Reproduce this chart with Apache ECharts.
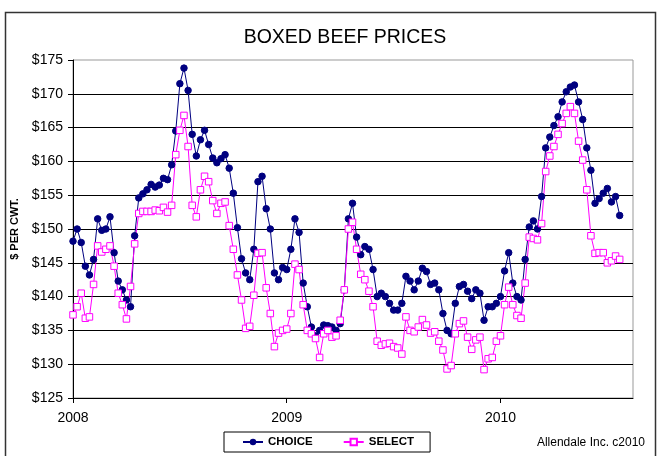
<!DOCTYPE html>
<html>
<head>
<meta charset="utf-8">
<script src="https://cdn.jsdelivr.net/npm/echarts@6/dist/echarts.min.js"></script>
<style>
  html, body { margin: 0; padding: 0; background: #fff; }
  #chart { width: 660px; height: 456px; }
</style>
</head>
<body>
<div id="chart"></div>
<script>
// weekly prices, first week of 2008 onward
var yearTicks = [2008, 2009, 2010];

var choice = [
  148.2, 150.0, 148.0, 144.5, 143.2, 145.5, 151.5, 149.8, 150.0, 151.8,
  146.5, 142.3, 141.0, 139.5, 138.5, 149.0, 154.6, 155.2, 155.8, 156.6,
  156.2, 156.5, 157.5, 157.3, 159.5, 164.5, 171.5, 173.8, 170.5, 164.0,
  160.8, 163.2, 164.6, 162.5, 160.5, 159.8, 160.4, 161.0, 159.0, 155.3,
  150.2, 145.6, 143.5, 142.5, 147.0, 157.0, 157.8, 153.0, 150.0, 143.5,
  142.5, 144.3, 144.0, 147.0, 151.5, 149.5, 142.0, 138.5, 135.5, 134.2,
  135.0, 135.8, 135.7, 135.5, 135.0, 136.0, 141.0, 151.5, 153.8, 148.8,
  146.2, 147.4, 147.0, 144.0, 140.0, 140.5, 140.0, 139.0, 138.0, 138.0,
  139.0, 143.0, 142.3, 141.0, 142.3, 144.2, 143.7, 141.8, 142.0, 141.0,
  137.5, 135.0, 134.5, 139.0, 141.5, 141.8, 140.8, 139.7, 141.0, 140.5,
  136.5, 138.5, 138.5, 139.0, 140.0, 143.8, 146.5, 142.0, 140.0, 139.5,
  145.5, 150.3, 151.2, 150.0, 154.8, 162.0, 163.6, 165.3, 166.6, 168.8,
  170.3, 171.0, 171.3, 168.8, 166.2, 162.0, 158.7, 153.8, 154.5, 155.3,
  156.0, 154.0, 154.8, 152.0
];

var select = [
  137.3, 138.5, 140.5, 136.8, 137.0, 141.8, 147.5, 146.6, 147.0, 147.5,
  144.5, 140.5, 138.8, 136.7, 141.5, 147.8, 152.3, 152.6, 152.6, 152.6,
  152.8, 152.7, 153.2, 152.5, 153.5, 161.0, 164.6, 166.8, 162.2, 153.5,
  151.8, 155.8, 157.8, 157.0, 154.2, 152.3, 153.8, 154.0, 150.5, 147.0,
  143.2, 139.5, 135.3, 135.6, 140.2, 146.4, 146.5, 141.3, 137.5, 132.6,
  134.6, 135.0, 135.2, 137.5, 144.8, 144.0, 138.8, 135.0, 134.5, 133.8,
  131.0, 134.5, 135.0, 134.0, 134.2, 136.5, 141.0, 150.0, 151.0, 147.0,
  143.3, 142.5, 140.8, 138.5, 133.4, 132.8, 133.0, 133.1, 132.6, 132.4,
  131.5, 137.0, 135.0, 134.8, 135.5, 136.6, 135.8, 134.6, 134.8, 133.4,
  132.1, 129.3, 129.8, 134.5, 136.0, 136.4, 134.0, 132.2, 133.6, 134.0,
  129.2, 130.8, 131.0, 133.4, 134.2, 138.8, 141.4, 138.8, 137.2, 136.8,
  142.0, 148.8, 148.6, 148.4, 150.8, 158.5, 160.8, 162.2, 164.0, 165.6,
  167.1, 168.1, 167.1, 163.0, 160.2, 155.8, 149.0, 146.4, 146.5, 146.5,
  145.0, 145.3, 146.0, 145.5
];

function toPoints(arr) {
  // week i -> fraction of a year from Jan 2008
  return arr.map(function (v, i) { return [2008 + i / 52, v]; });
}

var myChart = echarts.init(document.getElementById('chart'));
var font = 'Liberation Sans, Arial, sans-serif';

var option = {
  animation: false,
  backgroundColor: '#fff',
  textStyle: { fontFamily: font, color: '#000' },
  title: {
    text: 'BOXED BEEF PRICES',
    left: 340,
    top: 23,
    textAlign: 'center',
    textStyle: { fontFamily: font, fontSize: 19.5, fontWeight: 'normal', color: '#000' }
  },
  grid: {
    left: 73, right: 27, top: 60, bottom: 58,
    show: true, borderColor: '#999', borderWidth: 1
  },
  legend: {
    data: ['CHOICE', 'SELECT'],
    left: 224,
    top: 432,
    padding: [4, 16, 4, 18],
    itemGap: 30,
    itemWidth: 20,
    itemHeight: 8,
    borderColor: '#000',
    borderWidth: 1,
    textStyle: { fontFamily: font, fontSize: 11.5, fontWeight: 'bold', color: '#000' }
  },
  xAxis: {
    type: 'value',
    min: 2008,
    max: 2010.62,
    interval: 1,
    axisLine: { lineStyle: { color: '#000', width: 1 } },
    axisTick: { show: true, length: 5, customValues: yearTicks, lineStyle: { color: '#000' } },
    axisLabel: {
      customValues: yearTicks,
      margin: 13,
      fontSize: 14,
      color: '#000',
      fontFamily: font,
      formatter: function (v) { return String(Math.round(v)); }
    },
    splitLine: { show: false }
  },
  yAxis: {
    type: 'value',
    min: 125,
    max: 175,
    interval: 5,
    name: '$ PER CWT.',
    nameLocation: 'middle',
    nameRotate: 90,
    nameGap: 45,
    nameTextStyle: { fontFamily: font, fontSize: 11, fontWeight: 'bold', color: '#000' },
    axisLine: { show: true, lineStyle: { color: '#000', width: 1 } },
    axisTick: { show: true, length: 5, lineStyle: { color: '#000' } },
    axisLabel: {
      margin: 10,
      fontSize: 14,
      color: '#000',
      fontFamily: font,
      formatter: function (v) { return '$' + v; }
    },
    splitLine: { show: true, showMaxLine: false, showMinLine: false, lineStyle: { color: '#000', width: 1 } }
  },
  graphic: [
    {
      type: 'rect',
      silent: true,
      shape: { x: 5.5, y: 12.5, width: 650, height: 470 },
      style: { fill: 'none', stroke: '#333', lineWidth: 1.5 }
    },
    {
      type: 'text',
      silent: true,
      style: {
        x: 645, y: 443,
        text: 'Allendale Inc. c2010',
        textAlign: 'right',
        textVerticalAlign: 'middle',
        font: '12px ' + font,
        fill: '#000'
      }
    }
  ],
  series: [
    {
      name: 'CHOICE',
      type: 'line',
      data: toPoints(choice),
      symbol: 'circle',
      symbolSize: 6.5,
      showAllSymbol: true,
      itemStyle: { color: '#000080', borderColor: '#000080' },
      lineStyle: { color: '#000080', width: 1 }
    },
    {
      name: 'SELECT',
      type: 'line',
      data: toPoints(select),
      symbol: 'rect',
      symbolSize: 6.5,
      showAllSymbol: true,
      itemStyle: { color: '#fff', borderColor: '#ff00ff', borderWidth: 1 },
      lineStyle: { color: '#ff00ff', width: 1 }
    }
  ]
};

myChart.setOption(option);
</script>
</body>
</html>
